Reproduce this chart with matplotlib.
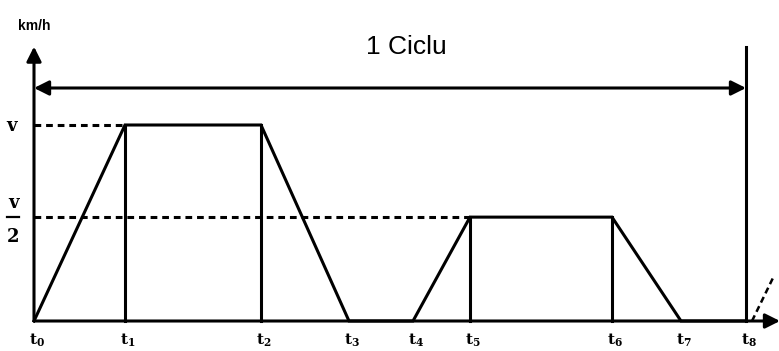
import matplotlib.pyplot as plt

plt.rcParams["mathtext.fontset"] = "dejavuserif"

# time instants t0..t8 (arbitrary units)
t_labels = ["0", "1", "2", "3", "4", "5", "6", "7", "8"]
t_vals = [0, 9.1, 22.7, 31.5, 37.9, 43.6, 57.8, 64.7, 71.2]

# speed levels
v_full = 1.0
v_half = 0.53

# speed profile of one cycle
prof_t = [0, 9.1, 22.7, 31.5, 37.9, 43.6, 57.8, 64.7, 71.2]
prof_v = [0, v_full, v_full, 0, 0, v_half, v_half, 0, 0]

# start of next cycle (dashed)
next_t = [71.8, 73.9]
next_v = [0, 0.22]

fig = plt.figure(figsize=(7.79, 3.51), dpi=100)
ax = fig.add_axes([34 / 779, 30 / 351, 745 / 779, 273 / 351])
ax.set_xlim(0, 74.5)
ax.set_ylim(0, 273 / 196)
ax.axis("off")

lw = 2.2
k = "black"

# profile
ax.plot(prof_t, prof_v, color=k, lw=lw, solid_joinstyle="miter", clip_on=False)
# verticals at t1, t2, t5, t6
for t, v in [(t_vals[1], v_full), (t_vals[2], v_full), (t_vals[5], v_half), (t_vals[6], v_half)]:
    ax.plot([t, t], [0, v], color=k, lw=lw, clip_on=False)

# dashed reference levels
ax.plot([0, t_vals[1]], [v_full, v_full], color=k, lw=2.2, ls=(0, (2.2, 1.6)), clip_on=False)
ax.plot([0, t_vals[5]], [v_half, v_half], color=k, lw=2.2, ls=(0, (2.2, 1.6)), clip_on=False)

# next cycle start
ax.plot(next_t, next_v, color=k, lw=1.8, ls=(0, (2.5, 1.6)), clip_on=False)

# axes arrows
arrow = dict(arrowstyle="-|>", color=k, lw=lw, mutation_scale=22, shrinkA=0, shrinkB=0)
ax.annotate("", xy=(0, 1.40), xytext=(0, 0), arrowprops=arrow, annotation_clip=False)
ax.annotate("", xy=(74.6, 0), xytext=(0, 0), arrowprops=arrow, annotation_clip=False)

# cycle arrow
y_c = (321 - 88) / 196
ax.annotate("", xy=(0, y_c), xytext=(t_vals[8], y_c),
            arrowprops=dict(arrowstyle="<|-|>", color=k, lw=lw, mutation_scale=22, shrinkA=0, shrinkB=0),
            annotation_clip=False)
ax.plot([t_vals[8], t_vals[8]], [0, 1.398], color=k, lw=lw, clip_on=False)
ax.text(37.2, 1.40, "1 Ciclu", fontsize=19, family="Liberation Sans",
        ha="center", va="center")

# tick labels
for t, lab in zip(t_vals, t_labels):
    ax.text(t + 0.3, -0.10, r"$\mathbf{t}_{\mathbf{%s}}$" % lab, fontsize=11,
            ha="center", va="center")

# axis labels
ax.text(0, 1.505, "km/h", fontsize=10, fontweight="bold", family="Liberation Sans",
        ha="center", va="center")
ax.text(-2.2, 0.995, "v", fontsize=13, fontweight="bold", family="DejaVu Serif",
        ha="center", va="center")
ax.text(-2.1, 0.60, "v", fontsize=13, fontweight="bold", family="DejaVu Serif",
        ha="center", va="center")
ax.plot([-2.7, -1.5], [0.531, 0.531], color=k, lw=1.6, clip_on=False)
ax.text(-2.1, 0.43, "2", fontsize=13, fontweight="bold", family="DejaVu Serif",
        ha="center", va="center")

fig.savefig("out.png", dpi=100)
